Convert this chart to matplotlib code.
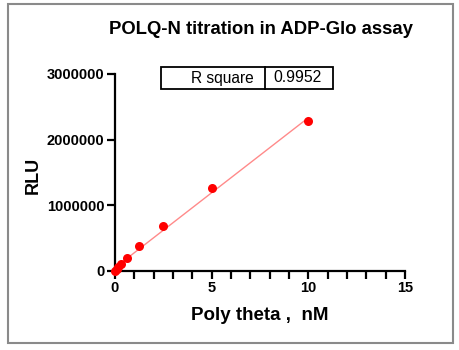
import matplotlib
matplotlib.use("Agg")
import matplotlib.pyplot as plt
import numpy as np
from matplotlib.patches import Rectangle

plt.rcParams['font.family'] = ['Liberation Sans', 'DejaVu Sans']

conc_nM = [0, 0.078, 0.156, 0.3125, 0.625, 1.25, 2.5, 5, 10]
rlu = [0, 30000, 60000, 110000, 200000, 380000, 680000, 1260000, 2280000]
title = "POLQ-N titration in ADP-Glo assay"
xlabel = "Poly theta ,  nM"
ylabel = "RLU"
r_square = "0.9952"
xticks = [0, 5, 10, 15]
yticks = [0, 1000000, 2000000, 3000000]

fig = plt.figure(figsize=(4.59, 3.5), dpi=100)
ax = fig.add_axes([115/459, 1-271/350, (405-115)/459, (271-74)/350])

# linear fit
slope, intercept = np.polyfit(conc_nM, rlu, 1)
xf = np.array([min(conc_nM), max(conc_nM)])
ax.plot(xf, slope*xf + intercept, color='#ff8a8a', lw=1.0, zorder=2, clip_on=False)
ax.plot(conc_nM, rlu, 'o', color='#ff0000', ms=6.5, mec='none', zorder=3, clip_on=False)

ax.set_xlim(0, 15)
ax.set_ylim(0, 3000000)
ax.set_xticks(xticks)
ax.set_xticks(np.arange(0, 16, 1), minor=True)
ax.set_yticks(yticks)
ax.set_yticklabels([str(v) for v in yticks])
ax.set_xticklabels([str(v) for v in xticks])
for s in ['top', 'right']:
    ax.spines[s].set_visible(False)
for s in ['left', 'bottom']:
    ax.spines[s].set_linewidth(1.6)
ax.tick_params(axis='both', which='major', width=1.6, length=5.5, labelsize=10.5, pad=2)
ax.tick_params(axis='x', which='minor', width=1.6, length=5.5)
for lab in ax.get_xticklabels() + ax.get_yticklabels():
    lab.set_fontweight('bold')

fig.text(260/459, 1-315/350, xlabel, fontsize=13.5, fontweight='bold', ha='center', va='center')
fig.text(33/459, 1-175/350, ylabel, rotation=90, fontsize=13, fontweight='bold', ha='center', va='center')
fig.text(261/459, 1-30/350, title, fontsize=13.3, fontweight='bold', ha='center', va='center')

# R square table
tx0, tx1, tdiv = 161/459, 333/459, 265/459
ty0, ty1 = 1-89/350, 1-67/350
fig.patches.append(Rectangle((tx0, ty0), tx1-tx0, ty1-ty0, transform=fig.transFigure,
                             fill=False, ec='black', lw=1.3))
fig.lines.append(plt.Line2D([tdiv, tdiv], [ty0, ty1], transform=fig.transFigure, color='black', lw=1.3))
fig.text(tdiv - 11/459, (ty0+ty1)/2, "R square", ha='right', va='center', fontsize=11.2)
fig.text(298/459, (ty0+ty1)/2, r_square, ha='center', va='center', fontsize=11.3)

# outer frame
fig.patches.append(Rectangle((8/459, 1-343/350), (453-8)/459, (343-4)/350, transform=fig.transFigure,
                             fill=False, ec='#8a8a8a', lw=1.5))

fig.savefig('out.png', dpi=100)
